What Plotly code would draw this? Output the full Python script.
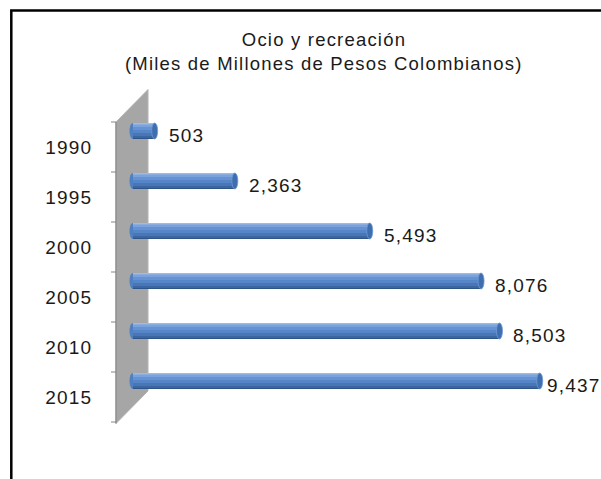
import plotly.graph_objects as go

# ---- data ----
years = ["1990", "1995", "2000", "2005", "2010", "2015"]
values = [503, 2363, 5493, 8076, 8503, 9437]
value_labels = [f"{v:,}" for v in values]
title_line1 = "Ocio y recreación"
title_line2 = "(Miles de Millones de Pesos Colombianos)"

# ---- layout geometry ----
W, H = 601, 479
L, R, T, B = 126, 37, 106, 73
XMIN, XMAX = -162, 10000
plot_w = W - L - R
plot_h = H - T - B
cat_px = plot_h / len(years)
FONT = "Liberation Sans, Arial, sans-serif"
TXT = "#1a1a1a"


def pxx(px):
    return (px - L) / plot_w


def pxy(py):
    return (H - B - py) / plot_h


# cylinder shading stripes (pixel offsets from top of bar, colour)
bar_px = 16
stripes = [(0, 1.5, "#9dbbe6"), (1.5, 4, "#7aa2dc"), (4, 7, "#6592d3"),
           (7, 10, "#5685c8"), (10, 13, "#4876b7"), (13, 15, "#3b66a2"),
           (15, 16, "#2f5588")]

fig = go.Figure()
for a, b, c in stripes:
    fig.add_trace(go.Bar(
        y=years, x=values, orientation="h",
        width=(b - a) / cat_px, offset=(a - bar_px / 2) / cat_px,
        marker=dict(color=c, line=dict(width=0)),
        hoverinfo="skip", showlegend=False))

shapes = []
# chart frame
shapes.append(dict(type="rect", xref="paper", yref="paper",
                   x0=pxx(11.3), x1=pxx(650), y0=pxy(10.6), y1=pxy(540),
                   line=dict(color="black", width=2.5), fillcolor="rgba(0,0,0,0)",
                   layer="below"))
# 3D wall (gray parallelogram)
tick_offset = 16
ticks_py = [T + k * cat_px + tick_offset for k in range(len(years) + 1)]
wx0, wx1, dy = 116, 148, 32.5
wall = (f"M {pxx(wx0)},{pxy(ticks_py[0])} L {pxx(wx1)},{pxy(ticks_py[0] - dy)} "
        f"L {pxx(wx1)},{pxy(ticks_py[-1] - dy + 1.5)} L {pxx(wx0)},{pxy(ticks_py[-1] + 1.5)} Z")
shapes.append(dict(type="path", xref="paper", yref="paper", path=wall,
                   fillcolor="#a6a6a6", line=dict(color="#b4b4b4", width=1),
                   layer="below"))
shapes.append(dict(type="line", xref="paper", yref="paper",
                   x0=pxx(wx0), x1=pxx(wx0), y0=pxy(ticks_py[0]), y1=pxy(ticks_py[-1] + 1.5),
                   line=dict(color="#858585", width=1.2), layer="below"))
for ty in ticks_py:
    shapes.append(dict(type="line", xref="paper", yref="paper",
                       x0=pxx(111), x1=pxx(wx0), y0=pxy(ty), y1=pxy(ty),
                       line=dict(color="#858585", width=1), layer="below"))

half = bar_px / 2 / cat_px
for i, v in enumerate(values):
    # rounded left end
    shapes.append(dict(type="circle", xref="x", yref="y", xsizemode="pixel",
                       xanchor=0, x0=-3.5, x1=3.5, y0=i - half, y1=i + half,
                       fillcolor="#4f80c2", line=dict(width=0), layer="below"))
    # right end cap
    shapes.append(dict(type="circle", xref="x", yref="y", xsizemode="pixel",
                       xanchor=v, x0=-3, x1=3, y0=i - half, y1=i + half,
                       fillcolor="#3f6eae", line=dict(color="#6f99d4", width=0.8),
                       layer="above"))

annotations = []
for i, y in enumerate(years):
    annotations.append(dict(x=0, xref="x", y=i, yref="y", text=y,
                            xanchor="right", align="right", xshift=-39, yshift=-16,
                            showarrow=False, font=dict(family=FONT, size=19, color=TXT)))
label_shift = [12, 12, 12, 12, 12, 5]
for i, (v, t) in enumerate(zip(values, value_labels)):
    annotations.append(dict(x=v, xref="x", y=i, yref="y", text=t,
                            xanchor="left", align="left", xshift=label_shift[i], yshift=-4,
                            showarrow=False, font=dict(family=FONT, size=19, color=TXT)))
# second title line
annotations.append(dict(x=pxx(324), xref="paper", y=pxy(63), yref="paper",
                        text=title_line2, xanchor="center", yanchor="middle",
                        showarrow=False, font=dict(family=FONT, size=18.5, color=TXT)))

fig.update_layout(
    width=W, height=H,
    margin=dict(l=L, r=R, t=T, b=B),
    paper_bgcolor="white", plot_bgcolor="rgba(0,0,0,0)",
    barmode="overlay",
    title=dict(text=title_line1, xref="container", x=324 / W,
               xanchor="center", yref="container", y=1 - 40 / H, yanchor="middle",
               font=dict(family=FONT, size=18.5, color=TXT)),
    xaxis=dict(range=[XMIN, XMAX], visible=False, fixedrange=True),
    yaxis=dict(type="category", categoryorder="array", categoryarray=years,
               range=[len(years) - 0.5, -0.5], visible=False, fixedrange=True),
    shapes=shapes, annotations=annotations, showlegend=False,
)

post = """
document.body.style.margin = '0';
document.body.style.overflow = 'hidden';
var gd = document.getElementById('{plot_id}');
gd.querySelectorAll('text').forEach(function(t){ t.style.letterSpacing = '1.2px'; });
"""
fig.write_html("out.html", post_script=post, config={"displayModeBar": False})
